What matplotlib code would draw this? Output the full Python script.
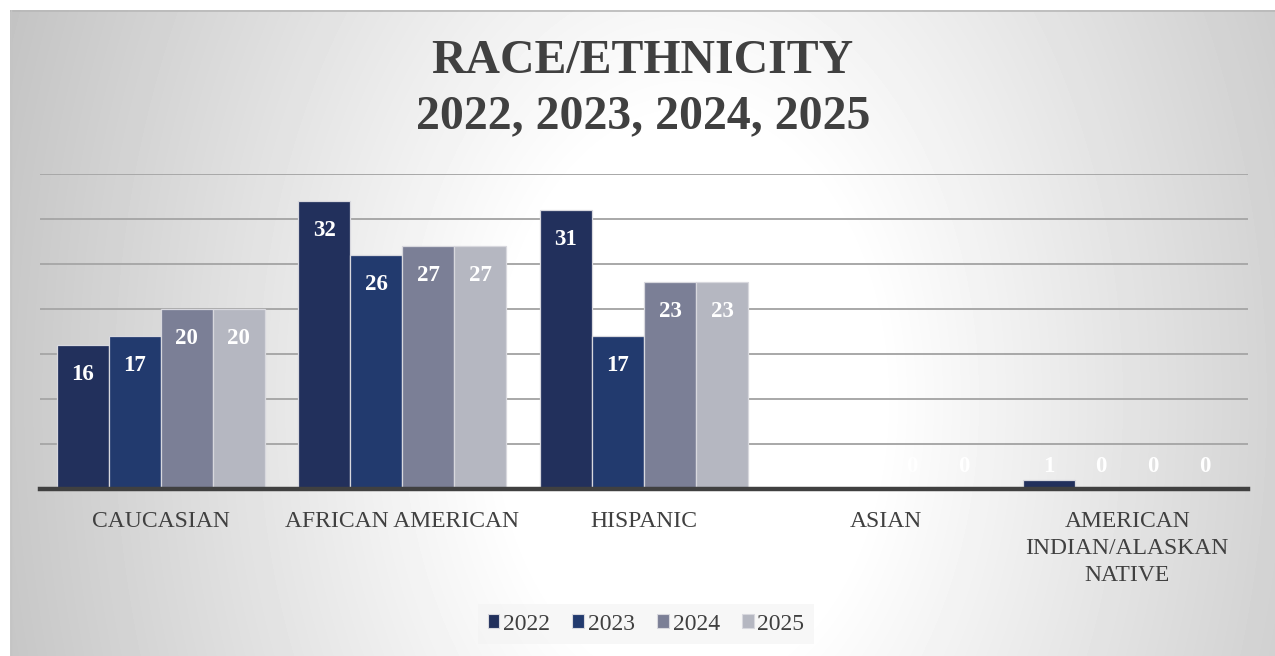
import numpy as np
import matplotlib
matplotlib.use("Agg")
import matplotlib.pyplot as plt
from matplotlib.patches import Patch

# ---- data ----
categories = ["CAUCASIAN", "AFRICAN AMERICAN", "HISPANIC", "ASIAN",
              "AMERICAN\nINDIAN/ALASKAN\nNATIVE"]
years = ["2022", "2023", "2024", "2025"]
v2022 = [16, 32, 31, 0, 1]
v2023 = [17, 26, 17, 0, 0]
v2024 = [20, 27, 23, 0, 0]
v2025 = [20, 27, 23, 0, 0]
series = [v2022, v2023, v2024, v2025]
colors = ["#22305c", "#223a6e", "#7b7f96", "#b5b7c1"]
title_lines = ["RACE/ETHNICITY", "2022, 2023, 2024, 2025"]

SERIF = ["Liberation Serif", "DejaVu Serif"]
W, H = 1275, 656
fig = plt.figure(figsize=(W / 100, H / 100), dpi=100)
fig.patch.set_facecolor("white")

# ---- background gradient panel ----
bg = fig.add_axes([10 / W, 0, 1 - 10 / W, (H - 10) / H], zorder=-10)
bw, bh = W - 10, H - 10
px, py = np.meshgrid(np.arange(bw) + 10, np.arange(bh) + 10)
dx = (px - 690) / 632.0
dy = (py - 400) / 323.0
r = np.sqrt(dx ** 2 + 0.12 * dy ** 2)
g = np.clip((r - 0.3) / 0.9, 0, 1)
gray = (255 - 63 * g) / 255.0
bg.imshow(gray, cmap="gray", vmin=0, vmax=1, aspect="auto",
          extent=[0, 1, 0, 1], origin="upper", interpolation="bilinear")
bg.set_xlim(0, 1)
bg.set_ylim(0, 1)
bg.set_axis_off()
bg.plot([0, 1], [0.999, 0.999], color="#b8b8b8", lw=1.2,
        transform=bg.transAxes)
bg.plot([0.0008, 0.0008], [0, 1], color="#c4c4c4", lw=1.0,
        transform=bg.transAxes)

# ---- main axes ----
left, right, y0, ytop = 40, 1248, 489, 174
ax = fig.add_axes([left / W, (H - y0) / H, (right - left) / W, (y0 - ytop) / H])
ax.patch.set_alpha(0)

n = len(series)
w = 1 / (n + 0.646)
x = np.arange(len(categories))
for j, (vals, c) in enumerate(zip(series, colors)):
    xs = x + (j - (n - 1) / 2) * w
    ax.bar(xs, vals, width=w, color=c, edgecolor="#d8d8de", linewidth=0.9,
           zorder=3, label=years[j])
    for xi, v in zip(xs, vals):
        ax.text(xi, max(v, 5.8) - 3.3, str(v), ha="center", va="center",
                color="white", fontsize=16.5, fontweight="bold",
                family=SERIF, zorder=5)

ax.set_xlim(-0.5, len(categories) - 0.5)
ax.set_ylim(0, 35)
ax.set_yticks(np.arange(5, 36, 5))
ax.yaxis.grid(True, color="#a8a8a8", linewidth=1.4, zorder=0)
ax.set_axisbelow(True)
ax.tick_params(axis="y", left=False, labelleft=False)
for s in ["top", "right", "left"]:
    ax.spines[s].set_visible(False)
ax.spines["bottom"].set_color("#404040")
ax.spines["bottom"].set_linewidth(3.2)
ax.spines["bottom"].set_zorder(6)
ax.set_xticks(x)
ax.set_xticklabels(categories, fontsize=17, family=SERIF, color="#404040",
                   linespacing=1.39)
ax.tick_params(axis="x", length=0, pad=15.5)

# ---- title ----
fig.text(642 / W, 1 - 61 / H, title_lines[0], ha="center", va="center",
         fontsize=34.4, fontweight="bold", family=SERIF, color="#404040")
fig.text(643 / W, 1 - 116 / H, title_lines[1], ha="center", va="center",
         fontsize=34.4, fontweight="bold", family=SERIF, color="#404040")

# ---- legend ----
handles = [Patch(facecolor=c, edgecolor="#d8d8de", linewidth=0.8) for c in colors]
leg = fig.legend(handles, years, loc="center", bbox_to_anchor=(646 / W, 1 - 624 / H),
                 ncol=4, frameon=True, fancybox=False,
                 prop={"family": SERIF, "size": 17},
                 handlelength=0.5, handleheight=0.5, handletextpad=0.15,
                 columnspacing=0.95, borderpad=0.4, borderaxespad=0.0)
leg.get_frame().set_facecolor("#f3f3f3")
leg.get_frame().set_edgecolor("none")
leg.get_frame().set_alpha(0.6)
for t in leg.get_texts():
    t.set_color("#404040")

fig.savefig("out.png", dpi=100)
